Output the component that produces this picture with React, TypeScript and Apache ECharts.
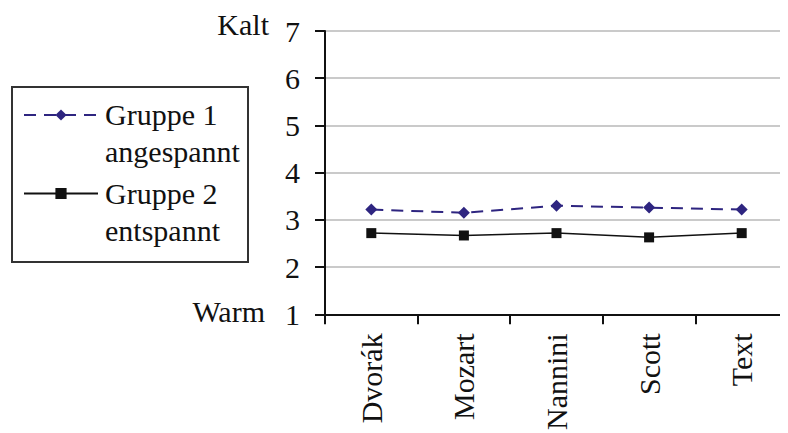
import React, { useEffect, useRef } from "react";
import * as echarts from "echarts";

const categories = ["Dvorák", "Mozart", "Nannini", "Scott", "Text"];
const gruppe1 = [3.22, 3.15, 3.3, 3.26, 3.22];
const gruppe2 = [2.72, 2.67, 2.72, 2.63, 2.72];
const seriesNames = ["Gruppe 1\nangespannt", "Gruppe 2\nentspannt"];
const yMin = 1;
const yMax = 7;
const topLabel = "Kalt";
const bottomLabel = "Warm";

const FONT = "Liberation Serif";

export default function App() {
  const ref = useRef<HTMLDivElement>(null);
  useEffect(() => {
    if (!ref.current) return;
    const chart = echarts.init(ref.current, null, { renderer: "svg" });
    chart.setOption({
      animation: false,
      backgroundColor: "#ffffff",
      grid: { left: 317, right: -2, top: 23, bottom: 117, containLabel: false },
      legend: {
        orient: "vertical",
        left: 15,
        top: 55,
        padding: 0,
        itemWidth: 74,
        itemHeight: 14,
        itemGap: -25,
        formatter: (name: string) =>
          "{e| }\n" + name.split("\n").map((l) => "{t|" + l + "}").join("\n"),
        textStyle: {
          fontFamily: FONT,
          fontSize: 30,
          color: "#111",
          rich: {
            e: { fontFamily: FONT, fontSize: 30, lineHeight: 36 },
            t: { fontFamily: FONT, fontSize: 30, lineHeight: 37, color: "#111", padding: [0, 0, 0, 2] },
          },
        },
        data: seriesNames,
      },
      xAxis: {
        type: "category",
        data: categories,
        boundaryGap: true,
        axisLine: { lineStyle: { color: "#111", width: 2 } },
        axisTick: { show: true, length: 10, alignWithLabel: false, lineStyle: { color: "#111", width: 2 } },
        axisLabel: {
          rotate: 90,
          margin: 19,
          fontFamily: FONT,
          fontSize: 30,
          color: "#111",
          interval: 0,
        },
        splitLine: { show: false },
      },
      yAxis: {
        type: "value",
        min: yMin,
        max: yMax,
        interval: 1,
        axisLine: { show: true, lineStyle: { color: "#111", width: 2 } },
        axisTick: { show: true, length: 10, lineStyle: { color: "#111", width: 2 } },
        axisLabel: { margin: 25, fontFamily: FONT, fontSize: 30, color: "#111" },
        splitLine: { show: true, lineStyle: { color: "#b8b8b8", width: 1.5 } },
      },
      graphic: [
        {
          type: "rect",
          shape: { x: 4, y: 79, width: 236, height: 175 },
          style: { fill: "none", stroke: "#333", lineWidth: 2 },
          silent: true,
        },
        {
          type: "text",
          x: 261,
          y: 1,
          style: {
            text: topLabel,
            fontFamily: FONT,
            fontSize: 30,
            fill: "#111",
            align: "right",
          },
        },
        {
          type: "text",
          x: 257,
          y: 288,
          style: {
            text: bottomLabel,
            fontFamily: FONT,
            fontSize: 30,
            fill: "#111",
            align: "right",
          },
        },
      ],
      series: [
        {
          name: seriesNames[0],
          type: "line",
          data: gruppe1,
          symbol: "diamond",
          symbolSize: [12, 12],
          itemStyle: { color: "#2e2580" },
          lineStyle: { color: "#2e2580", width: 2, type: [12, 8] },
        },
        {
          name: seriesNames[1],
          type: "line",
          data: gruppe2,
          symbol: "rect",
          symbolSize: 10,
          itemStyle: { color: "#111" },
          lineStyle: { color: "#111", width: 1.5, type: "solid" },
        },
      ],
    });
    return () => chart.dispose();
  }, []);
  return <div ref={ref} style={{ width: 780, height: 425 }} />;
}
